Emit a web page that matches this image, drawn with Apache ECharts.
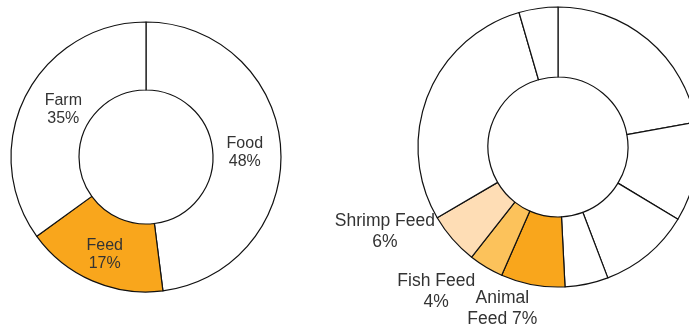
<!DOCTYPE html>
<html>
<head>
<meta charset="utf-8">
<script src="https://cdn.jsdelivr.net/npm/echarts@6/dist/echarts.min.js"></script>
<style>
  html, body { margin: 0; padding: 0; background: #fff; }
  #main { width: 689px; height: 327px; }
</style>
</head>
<body>
<div id="main"></div>
<script>
// left ring: share of use
var leftNames = ['Food', 'Feed', 'Farm'];
var leftValues = [48, 17, 35];

// right ring: breakdown, only the feed slices carry a label
var rightNames = ['a', 'b', 'c', 'd', 'Animal Feed', 'Fish Feed', 'Shrimp Feed', 'e', 'f'];
var rightValues = [22.2, 11.5, 10.6, 5, 7.4, 4, 6, 29, 4.5];
var rightLabels = ['', '', '', '', 'Animal\nFeed 7%', 'Fish Feed\n4%', 'Shrimp Feed\n6%', '', ''];

var orange = '#F9A61C';
var rightColors = ['#fff', '#fff', '#fff', '#fff', orange, '#FCC25B', '#FEDDB5', '#fff', '#fff'];

// where the outside labels sit (label line hidden, lengths only move the text)
var labelLines = {
  4: { length: 24, length2: 21 },
  5: { length: 29, length2: 30 },
  6: { length: -11, length2: 71 }
};
var leftNudge = { 0: [-5, 2], 1: [0, 2], 2: [10, 0] };

var chart = echarts.init(document.getElementById('main'), null, { renderer: 'canvas' });

var leftData = leftNames.map(function (n, i) {
  return {
    name: n,
    value: leftValues[i],
    itemStyle: { color: n === 'Feed' ? orange : '#fff' }
  };
});

var rightData = rightNames.map(function (n, i) {
  var d = {
    name: n,
    value: rightValues[i],
    itemStyle: { color: rightColors[i] }
  };
  if (labelLines[i]) {
    d.label = { show: true };
    d.labelLine = { show: false, length: labelLines[i].length, length2: labelLines[i].length2 };
  }
  return d;
});

var option = {
  animation: false,
  series: [
    {
      type: 'pie',
      center: [146, 157],
      radius: [67, 135],
      startAngle: 90,
      clockwise: true,
      silent: true,
      itemStyle: { borderColor: '#111', borderWidth: 1.2 },
      label: {
        show: true,
        position: 'inside',
        formatter: '{b}\n{c}%',
        color: '#333',
        fontFamily: 'Liberation Sans, Arial',
        fontSize: 16,
        lineHeight: 18
      },
      labelLayout: function (p) {
        var n = leftNudge[p.dataIndex];
        return { dx: n[0], dy: n[1], hideOverlap: false };
      },
      data: leftData
    },
    {
      type: 'pie',
      center: [558, 147],
      radius: [70, 140],
      startAngle: 90,
      clockwise: true,
      silent: true,
      avoidLabelOverlap: false,
      itemStyle: { borderColor: '#111', borderWidth: 1.2 },
      label: {
        show: false,
        position: 'outside',
        formatter: function (p) { return rightLabels[p.dataIndex]; },
        color: '#333',
        fontFamily: 'Liberation Sans, Arial',
        fontSize: 17.5,
        lineHeight: 21
      },
      labelLine: { show: false },
      labelLayout: { align: 'center', hideOverlap: false },
      data: rightData
    }
  ]
};

chart.setOption(option);
</script>
</body>
</html>
